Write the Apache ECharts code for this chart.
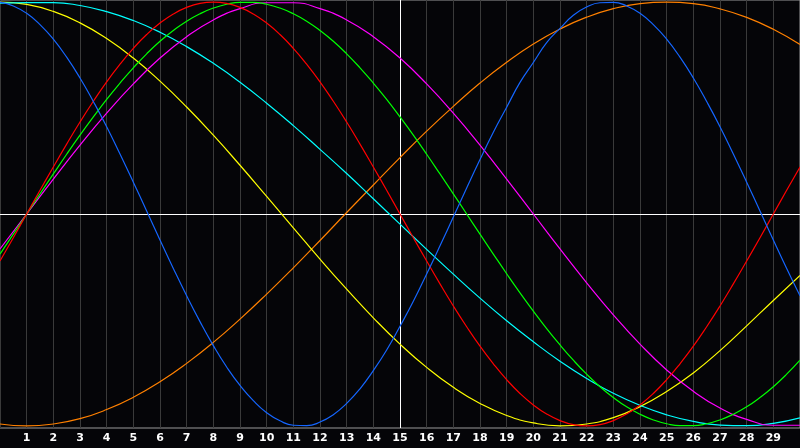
<!DOCTYPE html>
<html>
<head>
<meta charset="utf-8">
<title>waves</title>
<script src="https://cdn.jsdelivr.net/npm/echarts@6/dist/echarts.min.js"></script>
<style>
  html, body { margin: 0; padding: 0; background: #050508; }
  #main { width: 800px; height: 448px; }
</style>
</head>
<body>
<div id="main"></div>
<script>
// x positions: one sample per unit, and a finer grid for the faster waves
var xValues = [0,1,2,3,4,5,6,7,8,9,10,11,12,13,14,15,16,17,18,19,20,21,22,23,24,25,26,27,28,29,30];
var xFine = [0,0.5,1,1.5,2,2.5,3,3.5,4,4.5,5,5.5,6,6.5,7,7.5,8,8.5,9,9.5,10,10.5,11,11.5,12,12.5,13,13.5,14,14.5,15,
             15.5,16,16.5,17,17.5,18,18.5,19,19.5,20,20.5,21,21.5,22,22.5,23,23.5,24,24.5,25,25.5,26,26.5,27,27.5,28,28.5,29,29.5,30];

// values
var blueVals = [1.0,0.982,0.947,0.894,0.825,0.740,0.642,0.531,0.412,0.283,0.150,0.014,-0.123,-0.257,-0.386,-0.508,
                -0.621,-0.722,-0.809,-0.881,-0.938,-0.976,-0.997,-0.999,-0.982,-0.947,-0.894,-0.825,-0.739,-0.642,-0.530,
                -0.412,-0.283,-0.150,-0.014,0.123,0.257,0.386,0.504,0.621,0.715,0.809,0.876,0.938,0.977,0.997,0.999,
                0.982,0.947,0.894,0.825,0.740,0.642,0.531,0.412,0.283,0.150,0.014,-0.123,-0.257,-0.386];
var redVals = [-0.222,-0.112,0.0,0.112,0.222,0.330,0.434,0.532,0.624,0.707,0.782,0.847,0.901,0.944,0.975,0.994,
               1.0,0.994,0.975,0.944,0.901,0.847,0.782,0.707,0.624,0.532,0.434,0.330,0.222,0.112,0.0,
               -0.112,-0.222,-0.330,-0.434,-0.532,-0.624,-0.707,-0.782,-0.847,-0.901,-0.944,-0.975,-0.994,-1.0,-0.994,-0.975,
               -0.944,-0.901,-0.847,-0.782,-0.707,-0.624,-0.532,-0.434,-0.330,-0.222,-0.112,0.0,0.112,0.222];
var greenVals = [-0.189,-0.095,0.0,0.095,0.189,0.282,0.372,0.458,0.541,0.618,0.690,0.756,0.815,0.866,0.910,0.945,
                 0.972,0.990,0.999,0.999,0.990,0.972,0.945,0.910,0.866,0.815,0.756,0.690,0.618,0.541,0.458,
                 0.372,0.282,0.189,0.095,0.0,-0.095,-0.189,-0.282,-0.372,-0.458,-0.541,-0.618,-0.690,-0.756,-0.815,-0.866,
                 -0.910,-0.945,-0.972,-0.990,-0.999,-0.999,-0.990,-0.972,-0.945,-0.910,-0.866,-0.815,-0.756,-0.690];
var magentaVals = [-0.165,0.0,0.165,0.325,0.476,0.614,0.736,0.837,0.916,0.969,0.997,0.997,0.969,0.916,0.837,0.736,0.614,0.476,0.325,0.165,0.0,-0.165,-0.325,-0.476,-0.614,-0.736,-0.837,-0.916,-0.969,-0.997,-0.997];
var cyanVals = [0.995,0.998,0.998,0.984,0.955,0.913,0.858,0.790,0.711,0.622,0.523,0.417,0.305,0.191,0.072,-0.048,-0.167,-0.284,-0.397,-0.504,-0.603,-0.695,-0.776,-0.846,-0.903,-0.948,-0.979,-0.996,-0.999,-0.988,-0.962];
var yellowVals = [1.0,0.989,0.956,0.902,0.828,0.736,0.627,0.505,0.372,0.230,0.083,-0.065,-0.213,-0.355,-0.490,-0.614,-0.724,-0.818,-0.894,-0.951,-0.986,-1.0,-0.991,-0.961,-0.909,-0.838,-0.750,-0.645,-0.528,-0.408,-0.290];
var orangeVals = [-0.991,-1.0,-0.991,-0.966,-0.923,-0.865,-0.792,-0.705,-0.606,-0.496,-0.378,-0.254,-0.125,0.007,0.137,0.266,0.391,0.508,0.618,0.716,0.802,0.873,0.929,0.969,0.993,1.0,0.993,0.968,0.928,0.872,0.800];

var seriesDefs = [
  { name: 'orange', color: '#ff8000', xs: xValues, vals: orangeVals },
  { name: 'yellow', color: '#ffff00', xs: xValues, vals: yellowVals },
  { name: 'cyan', color: '#00ffff', xs: xValues, vals: cyanVals },
  { name: 'magenta', color: '#ff00ff', xs: xValues, vals: magentaVals },
  { name: 'green', color: '#00ff00', xs: xFine, vals: greenVals },
  { name: 'red', color: '#ff0000', xs: xFine, vals: redVals },
  { name: 'blue', color: '#1566ff', xs: xFine, vals: blueVals }
];

function pairs(xs, vals) {
  return xs.map(function (x, i) { return [x, vals[i]]; });
}

var myChart = echarts.init(document.getElementById('main'));

var series = seriesDefs.map(function (s) {
  return {
    name: s.name,
    type: 'line',
    data: pairs(s.xs, s.vals),
    smooth: 0.5,
    symbol: 'none',
    lineStyle: { color: s.color, width: 1.2 },
    z: 3
  };
});

// white centre lines (x = 15, y = 0)
series[0].markLine = {
  silent: true,
  symbol: 'none',
  label: { show: false },
  lineStyle: { color: '#ffffff', width: 1, type: 'solid' },
  data: [{ xAxis: 15 }, { yAxis: 0 }],
  z: 2
};

myChart.setOption({
  animation: false,
  backgroundColor: '#050508',
  grid: {
    left: 0,
    top: 0,
    right: -1,
    bottom: 20,
    show: true,
    borderColor: '#9a9a9a',
    borderWidth: 1,
    backgroundColor: 'transparent'
  },
  xAxis: {
    type: 'value',
    min: 0,
    max: 30,
    interval: 1,
    axisLine: { show: true, lineStyle: { color: '#9a9a9a' } },
    axisTick: { show: false },
    splitLine: { show: true, lineStyle: { color: '#3a3a3a', width: 1 } },
    axisLabel: {
      showMinLabel: false,
      showMaxLabel: false,
      color: '#ffffff',
      fontWeight: 'bold',
      fontSize: 11,
      fontFamily: 'DejaVu Sans',
      margin: 5
    }
  },
  yAxis: {
    type: 'value',
    min: -1.01,
    max: 1.01,
    axisLine: { show: false },
    axisTick: { show: false },
    axisLabel: { show: false },
    splitLine: { show: false }
  },
  series: series
});
</script>
</body>
</html>
